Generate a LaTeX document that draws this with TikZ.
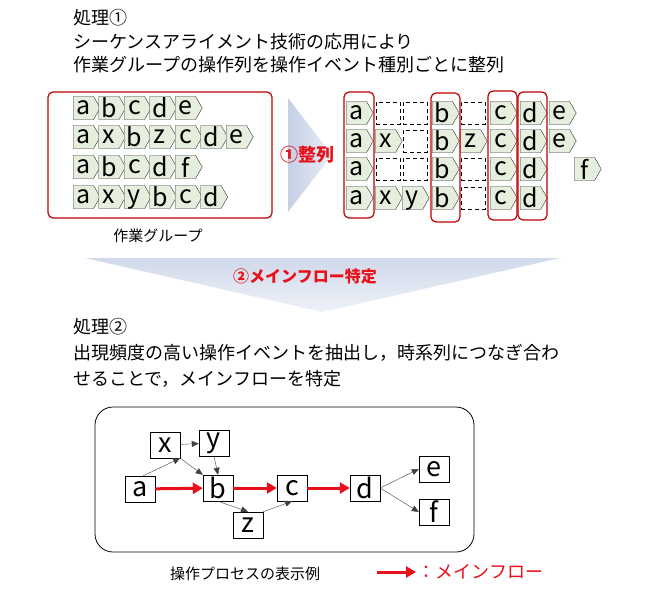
\documentclass[tikz,border=0pt]{standalone}
\usepackage{fontspec}
\setmainfont{Noto Sans CJK JP}
\usetikzlibrary{shapes.symbols,arrows.meta}
\definecolor{tokfill}{HTML}{E6EEDD}
\definecolor{rd}{HTML}{C00000}
\definecolor{arr}{HTML}{E8101A}
\definecolor{blu}{HTML}{C5D0E6}
\tikzset{
 tok/.style={shape=signal,signal to=east,signal pointer angle=120,draw=black!80,fill=tokfill,minimum width=27pt,minimum height=23pt,inner sep=0pt,font=\fontsize{25}{25}\selectfont,text depth=0pt,anchor=west},
 dbox/.style={draw,dash pattern=on 4pt off 3pt,thick,minimum width=24pt,minimum height=22pt,anchor=west},
 grp/.style={draw=rd,very thick,rounded corners=5pt},
 gnode/.style={draw,fill=white,minimum width=30pt,minimum height=26pt,inner sep=0pt,font=\fontsize{27}{27}\selectfont},
 thin arr/.style={-{Triangle[length=7pt,width=6pt]},black!75},
 main arr/.style={line width=3pt,arr,-{Triangle[length=10pt,width=11pt]}},
 ttl/.style={anchor=west,font=\fontsize{18}{20}\selectfont,inner sep=0pt}
}
\begin{document}
\begin{tikzpicture}[x=1pt,y=-1pt]
\useasboundingbox (0,0) rectangle (660,599);
\node[ttl] (t1) at (73,18) {処理①};
\node[ttl] (t2) at (73,42) {シーケンスアライメント技術の応用により};
\node[ttl] (t3) at (73,65) {作業グループの操作列を操作イベント種別ごとに整列};
% left group
\draw[grp] (48,92) rectangle (272,218);
\foreach \r/\y/\lst in {1/108/{a,b,c,d,e},2/137/{a,x,b,z,c,d,e},3/167/{a,b,c,d,f},4/197/{a,x,y,b,c,d}}{
  \foreach \l [count=\i] in \lst {
    \node[tok] (L\r-\i) at ({73+25.5*(\i-1)},\y) {\l};
  }
}
\node[font=\fontsize{15}{15}\selectfont] (cap1) at (158,236) {作業グループ};
% triangle arrow
\shade[left color=blu,right color=blu!40] (288,98) -- (332,155) -- (288,212) -- cycle;
\node[text=arr,font=\bfseries\fontsize{18}{18}\selectfont] (s1) at (307,155) {①整列};
% right aligned
\foreach \r/\y in {1/113,2/141,3/169,4/198}{
  \node[tok] (R\r-1) at (346,\y) {a};
  \node[tok] (R\r-4) at (432,\y) {b};
  \node[tok] (R\r-6) at (490,\y) {c};
  \node[tok] (R\r-7) at (520,\y) {d};
}
\node[dbox] (R1-2) at (376,113) {};
\node[dbox] (R1-3) at (403,113) {};
\node[dbox] (R1-5) at (461,113) {};
\node[tok] (R1-8) at (549,113) {e};
\node[tok] (R2-2) at (375,141) {x};
\node[dbox] (R2-3) at (403,141) {};
\node[tok] (R2-5) at (460,141) {z};
\node[tok] (R2-8) at (549,141) {e};
\node[dbox] (R3-2) at (376,169) {};
\node[dbox] (R3-3) at (403,169) {};
\node[dbox] (R3-5) at (461,169) {};
\node[tok] (R3-9) at (574,169) {f};
\node[tok] (R4-2) at (375,198) {x};
\node[tok] (R4-3) at (402,198) {y};
\node[dbox] (R4-5) at (461,198) {};
\draw[grp] (344,92) rectangle (374,218);
\draw[grp] (431,93) rectangle (460,222);
\draw[grp] (488,91) rectangle (517,220);
\draw[grp] (518,92) rectangle (547,220);
% banner
\shade[top color=blu!80,bottom color=blu!30] (85,258) -- (560,258) -- (322,312) -- cycle;
\node[text=arr,font=\bfseries\fontsize{16}{16}\selectfont] (s2) at (305,276) {②メインフロー特定};
\node[ttl] (t4) at (73,327) {処理②};
\node[ttl] (t5) at (73,353) {出現頻度の高い操作イベントを抽出し，時系列につなぎ合わ};
\node[ttl] (t6) at (73,379) {せることで，メインフローを特定};
% graph
\draw[thick,rounded corners=18pt] (95,407) rectangle (474,552);
\node[gnode] (a) at (140,489) {a};
\node[gnode] (x) at (165,445) {x};
\node[gnode] (y) at (214,443) {y};
\node[gnode] (b) at (218,488) {b};
\node[gnode] (c) at (292,488) {c};
\node[gnode] (d) at (365,488) {d};
\node[gnode] (e) at (434,469) {e};
\node[gnode] (f) at (434,512) {f};
\node[gnode] (z) at (248,525) {z};
\draw[thin arr] (a.north east) ++(-12,0) -- (x.south east);
\draw[thin arr] (x) -- (y);
\draw[thin arr] (x.south east) -- (b.north west);
\draw[thin arr] (y.south) -- (b.north);
\draw[thin arr] (b.south) -- (z.north);
\draw[thin arr] (z.north east) -- (c.south);
\draw[thin arr] (d.east) -- (e.west);
\draw[thin arr] (d.east) -- (f.west);
\draw[main arr] (a) -- (b);
\draw[main arr] (b) -- (c);
\draw[main arr] (c) -- (d);
\node[font=\fontsize{15}{15}\selectfont] (cap2) at (245,574) {操作プロセスの表示例};
\coordinate (l1) at (377,572);
\coordinate (l2) at (416,572);
\draw[main arr] (l1) -- (l2);
\node[text=arr,anchor=west,font=\fontsize{18}{18}\selectfont] (leg) at (414,572) {：メインフロー};
\end{tikzpicture}
\end{document}
